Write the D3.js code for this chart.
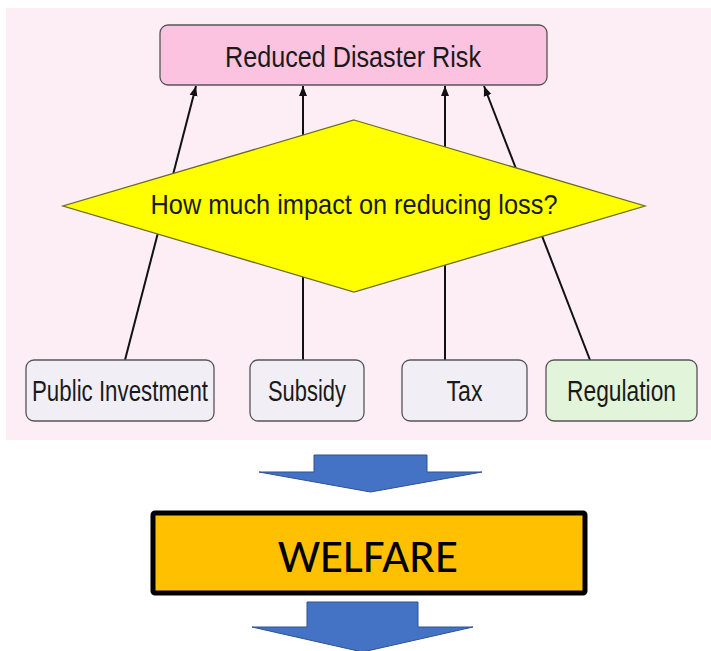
<!DOCTYPE html>
<html>
<head>
<meta charset="utf-8">
<script src="https://cdn.jsdelivr.net/npm/d3@7"></script>
<style>
  body { margin: 0; background: #fff; }
  svg { display: block; }
</style>
</head>
<body>
<svg id="chart" width="711" height="651"></svg>
<script>
// labels of the diagram
const goal = "Reduced Disaster Risk";
const question = "How much impact on reducing loss?";
const instruments = ["Public Investment", "Subsidy", "Tax", "Regulation"];
const outcome = "WELFARE";

// layout (pixels)
const boxX = [26, 250, 402, 546];
const boxW = [188, 114, 125, 151];
const boxFill = ["#f1eff5", "#f1eff5", "#f1eff5", "#e2f5da"];
const textLen = [176, 78, 36, 109];
const lineFrom = [125, 303, 445, 590];
const lineTo = [196, 303, 445, 484];

const svg = d3.select("#chart");

const defs = svg.append("defs");
defs.append("marker")
  .attr("id", "head")
  .attr("viewBox", "0 0 10 10")
  .attr("refX", 10)
  .attr("refY", 5)
  .attr("markerWidth", 5)
  .attr("markerHeight", 5)
  .attr("markerUnits", "strokeWidth")
  .attr("orient", "auto")
  .append("path")
  .attr("d", "M0,1 L10,5 L0,9 z")
  .attr("fill", "#111");

// pink panel
svg.append("rect")
  .attr("x", 6).attr("y", 8)
  .attr("width", 705).attr("height", 432)
  .attr("fill", "#fdeef5");

// arrows (drawn under the diamond)
svg.selectAll("line.link")
  .data(instruments)
  .enter()
  .append("line")
  .attr("class", "link")
  .attr("x1", (d, i) => lineFrom[i])
  .attr("y1", 360)
  .attr("x2", (d, i) => lineTo[i])
  .attr("y2", 86)
  .attr("stroke", "#111")
  .attr("stroke-width", 2)
  .attr("marker-end", "url(#head)");

// top box
svg.append("rect")
  .attr("x", 160).attr("y", 25)
  .attr("width", 387).attr("height", 60)
  .attr("rx", 8)
  .attr("fill", "#fbc3df")
  .attr("stroke", "#555")
  .attr("stroke-width", 1.3);
svg.append("text")
  .attr("x", 353).attr("y", 67)
  .attr("text-anchor", "middle")
  .attr("font-family", "Liberation Sans, Arial, sans-serif")
  .attr("font-size", 29)
  .attr("textLength", 256)
  .attr("lengthAdjust", "spacingAndGlyphs")
  .attr("fill", "#1a1a1a")
  .text(goal);

// diamond
const diamond = [[354, 120], [645, 206], [354, 292], [63, 206]];
svg.append("path")
  .attr("d", d3.line()(diamond) + "Z")
  .attr("fill", "#ffff00")
  .attr("stroke", "#6b6b2a")
  .attr("stroke-width", 1.3);
svg.append("text")
  .attr("x", 354).attr("y", 214)
  .attr("text-anchor", "middle")
  .attr("font-family", "Liberation Sans, Arial, sans-serif")
  .attr("font-size", 28)
  .attr("textLength", 407)
  .attr("lengthAdjust", "spacingAndGlyphs")
  .attr("fill", "#1a1a1a")
  .text(question);

// instrument boxes
const g = svg.selectAll("g.inst")
  .data(instruments)
  .enter()
  .append("g")
  .attr("class", "inst");
g.append("rect")
  .attr("x", (d, i) => boxX[i])
  .attr("y", 360)
  .attr("width", (d, i) => boxW[i])
  .attr("height", 61)
  .attr("rx", 8)
  .attr("fill", (d, i) => boxFill[i])
  .attr("stroke", "#555")
  .attr("stroke-width", 1.3);
g.append("text")
  .attr("x", (d, i) => boxX[i] + boxW[i] / 2)
  .attr("y", 401)
  .attr("text-anchor", "middle")
  .attr("font-family", "Liberation Sans, Arial, sans-serif")
  .attr("font-size", 29)
  .attr("textLength", (d, i) => textLen[i])
  .attr("lengthAdjust", "spacingAndGlyphs")
  .attr("fill", "#1a1a1a")
  .text((d) => d);

// blue block arrows
const blockArrow = (x0, x1, top, neck, hx0, hx1, tipY) => {
  const mid = (hx0 + hx1) / 2;
  return d3.line()([
    [x0, top], [x1, top], [x1, neck], [hx1, neck],
    [mid, tipY], [hx0, neck], [x0, neck],
  ]) + "Z";
};
svg.append("path")
  .attr("d", blockArrow(314, 427, 455, 472, 259, 482, 492))
  .attr("fill", "#4472c4")
  .attr("stroke", "#2f528f")
  .attr("stroke-width", 1);
svg.append("path")
  .attr("d", blockArrow(307, 418, 602, 627, 252, 473, 652))
  .attr("fill", "#4472c4")
  .attr("stroke", "#2f528f")
  .attr("stroke-width", 1);

// welfare box
svg.append("rect")
  .attr("x", 153).attr("y", 513)
  .attr("width", 432).attr("height", 80)
  .attr("rx", 2)
  .attr("fill", "#ffc000")
  .attr("stroke", "#000")
  .attr("stroke-width", 5);
svg.append("text")
  .attr("x", 368).attr("y", 572)
  .attr("text-anchor", "middle")
  .attr("font-family", "Carlito, Calibri, 'Open Sans', sans-serif")
  .attr("font-size", 47)
  .attr("textLength", 180)
  .attr("lengthAdjust", "spacingAndGlyphs")
  .attr("fill", "#000")
  .text(outcome);
</script>
</body>
</html>
